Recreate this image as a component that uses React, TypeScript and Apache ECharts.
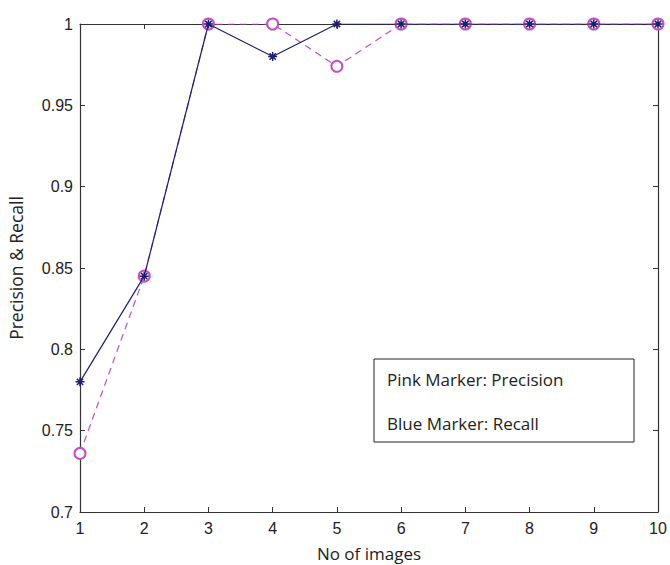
import React, { useEffect, useRef } from "react";
import * as echarts from "echarts";

const imageCounts = [1, 2, 3, 4, 5, 6, 7, 8, 9, 10];
const precision = [0.736, 0.845, 1, 1, 0.974, 1, 1, 1, 1, 1];
const recall = [0.78, 0.845, 1, 0.98, 1, 1, 1, 1, 1, 1];
const yTicks = ["0.7", "0.75", "0.8", "0.85", "0.9", "0.95", "1"];
const legendLines = ["Pink Marker: Precision", "Blue Marker: Recall"];

const PINK = "#c24fc6";
const BLUE = "#1d1f6e";
const AXIS = "#333333";
const STAR = "path://M0,5L10,5M5,0L5,10M1.5,1.5L8.5,8.5M8.5,1.5L1.5,8.5";

export default function App() {
  const ref = useRef<HTMLDivElement>(null);
  useEffect(() => {
    if (!ref.current) return;
    const chart = echarts.init(ref.current, null, { renderer: "svg" });
    const tickFont = { fontFamily: "Liberation Sans, Arial, sans-serif", fontSize: 16, color: "#222" };
    const yFmt = (v: number) => {
      const i = Math.round((v - 0.7) / 0.05);
      return yTicks[i] ?? "";
    };
    const axisCommon = {
      axisLine: { show: true, onZero: false, lineStyle: { color: AXIS, width: 1.2 } },
      axisTick: { show: true, inside: true, length: 5, lineStyle: { color: AXIS } },
      splitLine: { show: false },
    };
    chart.setOption({
      animation: false,
      backgroundColor: "#ffffff",
      grid: { left: 80, top: 24, right: 12, bottom: 53, containLabel: false, outerBoundsMode: "none" },
      xAxis: [
        {
          type: "value",
          min: 1,
          max: 10,
          interval: 1,
          position: "bottom",
          ...axisCommon,
          axisLabel: { ...tickFont, margin: 8 },
          name: "No of images",
          nameLocation: "middle",
          nameGap: 32,
          nameTextStyle: { fontFamily: "Open Sans, sans-serif", fontSize: 17, lineHeight: 18, color: "#222" },
        },
        {
          type: "value",
          min: 1,
          max: 10,
          interval: 1,
          position: "top",
          ...axisCommon,
          axisLabel: { show: false },
        },
      ],
      yAxis: [
        {
          type: "value",
          min: 0.7,
          max: 1,
          interval: 0.05,
          position: "left",
          ...axisCommon,
          axisLabel: { ...tickFont, margin: 7, formatter: yFmt },
          name: "Precision & Recall",
          nameLocation: "middle",
          nameGap: 55,
          nameRotate: 90,
          nameTextStyle: { fontFamily: "Open Sans, sans-serif", fontSize: 17.5, color: "#222" },
        },
        {
          type: "value",
          min: 0.7,
          max: 1,
          interval: 0.05,
          position: "right",
          ...axisCommon,
          axisLabel: { show: false },
        },
      ],
      series: [
        {
          type: "line",
          name: "Precision",
          data: imageCounts.map((x, i) => [x, precision[i]]),
          symbol: "emptyCircle",
          symbolSize: 11,
          showAllSymbol: true,
          lineStyle: { color: PINK, width: 1.2, type: [7, 5] },
          itemStyle: { color: PINK, borderColor: PINK, borderWidth: 1.2 },
          z: 3,
        },
        {
          type: "line",
          name: "Recall",
          data: imageCounts.map((x, i) => [x, recall[i]]),
          symbol: STAR,
          symbolSize: 9,
          showAllSymbol: true,
          lineStyle: { color: BLUE, width: 1.2 },
          itemStyle: { color: BLUE, borderColor: BLUE, borderWidth: 1.5 },
          z: 4,
        },
      ],
      graphic: [
        {
          type: "rect",
          shape: { x: 374, y: 359, width: 260, height: 83 },
          style: { fill: "#ffffff", stroke: "#222", lineWidth: 1 },
          z: 10,
        },
        {
          type: "text",
          x: 387,
          y: 379,
          style: {
            text: legendLines[0],
            fontFamily: "Open Sans, sans-serif",
            fontSize: 17,
            fill: "#222",
            verticalAlign: "middle",
          },
          z: 11,
        },
        {
          type: "text",
          x: 387,
          y: 423,
          style: {
            text: legendLines[1],
            fontFamily: "Open Sans, sans-serif",
            fontSize: 17,
            fill: "#222",
            verticalAlign: "middle",
          },
          z: 11,
        },
      ],
    });
    return () => chart.dispose();
  }, []);
  return (
    <div
      ref={ref}
      style={{ position: "fixed", left: 0, top: 0, width: 670, height: 565 }}
    />
  );
}
